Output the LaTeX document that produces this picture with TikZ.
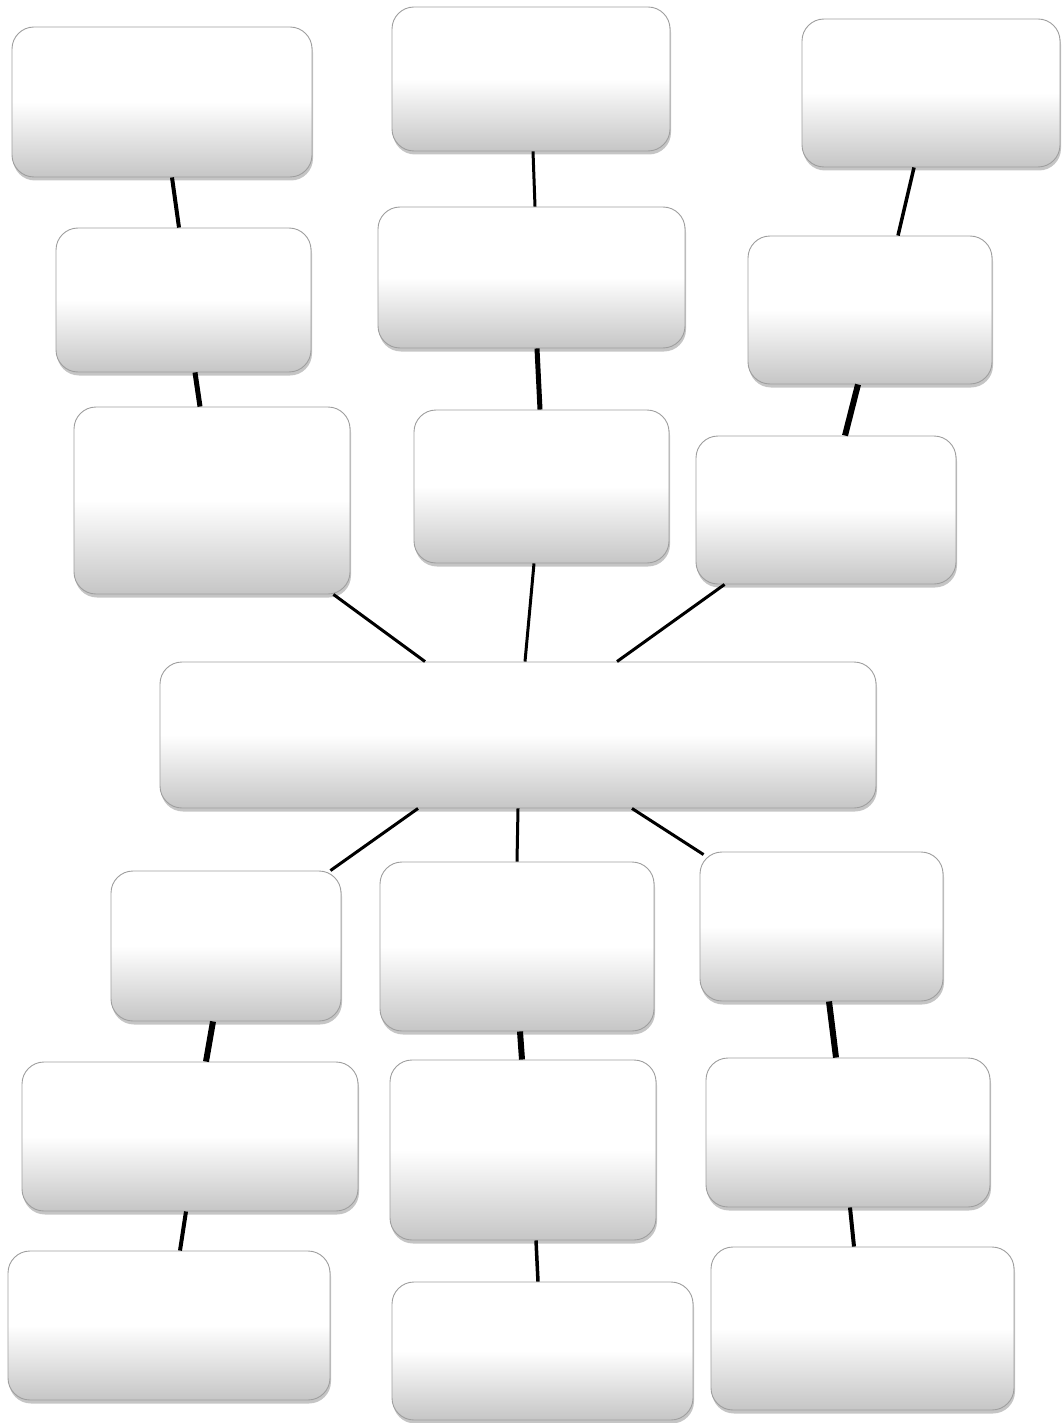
\documentclass[tikz,border=0pt]{standalone}
\usetikzlibrary{shadows}
\begin{document}
\begin{tikzpicture}[x=1pt,y=-1pt]
        \tikzstyle{panel}=[rectangle,rounded corners=22pt,draw=gray!75,line width=0.9pt,top color=white,bottom color=gray!45,middle color=white,drop shadow={shadow xshift=1pt,shadow yshift=-3.5pt,opacity=0.5,fill=gray!90},inner sep=0pt]
        \tikzstyle{link}=[draw,line width=3pt]
        \useasboundingbox (0,0) rectangle (1063,1423);
       \begin{scope}
         % upper branches
         \node [panel,minimum width=300pt,minimum height=150pt] (a1) at (162,102) {};
         \node [panel,minimum width=278pt,minimum height=144pt] (a2) at (531,79) {};
         \node [panel,minimum width=258pt,minimum height=148pt] (a3) at (931,93) {};
         \node [panel,minimum width=255pt,minimum height=144pt] (b1) at (183.5,300) {};
         \node [panel,minimum width=307pt,minimum height=141pt] (b2) at (531.5,277.5) {};
         \node [panel,minimum width=244pt,minimum height=148pt] (b3) at (870,310) {};
         \node [panel,minimum width=276pt,minimum height=187pt] (c1) at (212,500.5) {};
         \node [panel,minimum width=255pt,minimum height=153pt] (c2) at (541.5,486.5) {};
         \node [panel,minimum width=260pt,minimum height=148pt] (c3) at (826,510) {};
         % centre
         \node [panel,minimum width=716pt,minimum height=146pt] (hub) at (518,735) {};
         % lower branches
         \node [panel,minimum width=230pt,minimum height=150pt] (d1) at (226,946) {};
         \node [panel,minimum width=274pt,minimum height=169pt] (d2) at (517,946.5) {};
         \node [panel,minimum width=243pt,minimum height=149pt] (d3) at (821.5,926.5) {};
         \node [panel,minimum width=336pt,minimum height=149pt] (e1) at (190,1136.5) {};
         \node [panel,minimum width=266pt,minimum height=180pt] (e2) at (523,1150) {};
         \node [panel,minimum width=284pt,minimum height=149pt] (e3) at (848,1132.5) {};
         \node [panel,minimum width=322pt,minimum height=149pt] (f1) at (169,1325.5) {};
         \node [panel,minimum width=301pt,minimum height=138pt] (f2) at (542.5,1351) {};
         \node [panel,minimum width=303pt,minimum height=163pt] (f3) at (862.5,1328.5) {};
         % connectors
         \path[link,line width=4pt] ([xshift=10pt]a1.south) -- ([xshift=-4.5pt]b1.north);
         \path[link,line width=5pt] ([xshift=11.5pt]b1.south) -- ([xshift=-12pt]c1.north);
         \path[link] ([xshift=2pt]a2.south) -- ([xshift=3.5pt]b2.north);
         \path[link,line width=5pt] ([xshift=5.5pt]b2.south) -- ([xshift=-1.5pt]c2.north);
         \path[link,line width=3.5pt] ([xshift=-17pt]a3.south) -- ([xshift=28pt]b3.north);
         \path[link,line width=6pt] ([xshift=-12pt]b3.south) -- ([xshift=19pt]c3.north);
         \path[link] ([xshift=-17pt]c1.south east) -- ([xshift=-93pt]hub.north);
         \path[link] ([xshift=-7.5pt]c2.south) -- ([xshift=7pt]hub.north);
         \path[link] ([xshift=29pt]c3.south west) -- ([xshift=99pt]hub.north);
         \path[link] ([xshift=-100pt]hub.south) -- ([xshift=-11pt]d1.north east);
         \path[link] (hub.south) -- (d2.north);
         \path[link] ([xshift=114pt]hub.south) -- ([xshift=4pt,yshift=-3pt]d3.north west);
         \path[link,line width=6pt] ([xshift=-13pt]d1.south) -- ([xshift=16pt]e1.north);
         \path[link,line width=6pt] ([xshift=3pt]d2.south) -- ([xshift=-1pt]e2.north);
         \path[link,line width=6pt] ([xshift=7.5pt]d3.south) -- ([xshift=-12pt]e3.north);
         \path[link,line width=4pt] ([xshift=-4pt]e1.south) -- ([xshift=11pt]f1.north);
         \path[link,line width=3.5pt] ([xshift=13pt]e2.south) -- ([xshift=-4.5pt]f2.north);
         \path[link,line width=4pt] ([xshift=2pt]e3.south) -- ([xshift=-8.5pt]f3.north);
        \end{scope}
      \end{tikzpicture}
\end{document}
